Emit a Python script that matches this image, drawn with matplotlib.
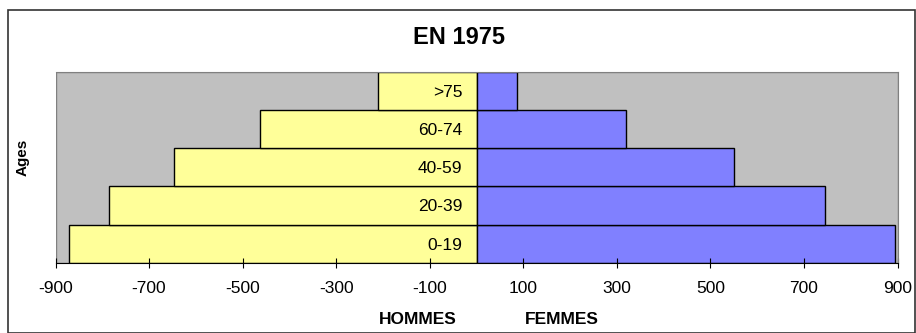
import matplotlib.pyplot as plt
from matplotlib.patches import Rectangle

plt.rcParams['font.family'] = ['Liberation Sans', 'DejaVu Sans']

# Data
ages = ["0-19", "20-39", "40-59", "60-74", ">75"]
hommes = [-872, -785, -647, -463, -210]
femmes = [894, 746, 551, 320, 86]
xticks = [-900, -700, -500, -300, -100, 100, 300, 500, 700, 900]

fig = plt.figure(figsize=(9.16, 3.33), dpi=100)

# chart border
fig.patches.append(Rectangle((8 / 916, 0), 1 - 9 / 916, 1 - 10 / 333, transform=fig.transFigure,
                             fill=False, edgecolor='#333333', linewidth=1.2))

ax = fig.add_axes([55.5 / 916, 70.3 / 333, 842 / 916, 191 / 333])
ax.set_facecolor('#C0C0C0')

ypos = range(len(ages))
ax.barh(ypos, hommes, height=1.0, color='#FFFF99', edgecolor='black', linewidth=1)
ax.barh(ypos, femmes, height=1.0, color='#8080FF', edgecolor='black', linewidth=1)

ax.set_xlim(-900, 900)
ax.set_ylim(-0.5, len(ages) - 0.5)
ax.set_xticks(xticks)
ax.set_xticklabels([str(t) for t in xticks], fontsize=12.5)
ax.tick_params(axis='x', direction='inout', length=7, width=0.8, pad=9.5)

# category labels sit next to the vertical axis at zero
ax.spines['left'].set_position(('data', 0))
ax.spines['left'].set_visible(False)
ax.set_yticks(list(ypos))
ax.set_yticklabels(ages, fontsize=12.5)
ax.tick_params(axis='y', length=0, pad=10)

for s in ['top', 'right']:
    ax.spines[s].set_color('#808080')
ax.spines['bottom'].set_color('black')

# plot area border
ax.add_patch(Rectangle((0, 0), 1, 1, transform=ax.transAxes, fill=False,
                       edgecolor='#808080', linewidth=1, zorder=0.5))

fig.text(459.5 / 916, 1 - 37 / 333, "EN 1975", ha='center', va='center',
         fontsize=17, fontweight='bold')
fig.text(23 / 916, 1 - 157 / 333, "Ages", ha='center', va='center',
         rotation=90, fontsize=11, fontweight='bold')
fig.text(418 / 916, 1 - 320 / 333, "HOMMES", ha='center', va='center',
         fontsize=12.5, fontweight='bold')
fig.text(562 / 916, 1 - 320 / 333, "FEMMES", ha='center', va='center',
         fontsize=12.5, fontweight='bold')

fig.savefig("out.png", dpi=100)
